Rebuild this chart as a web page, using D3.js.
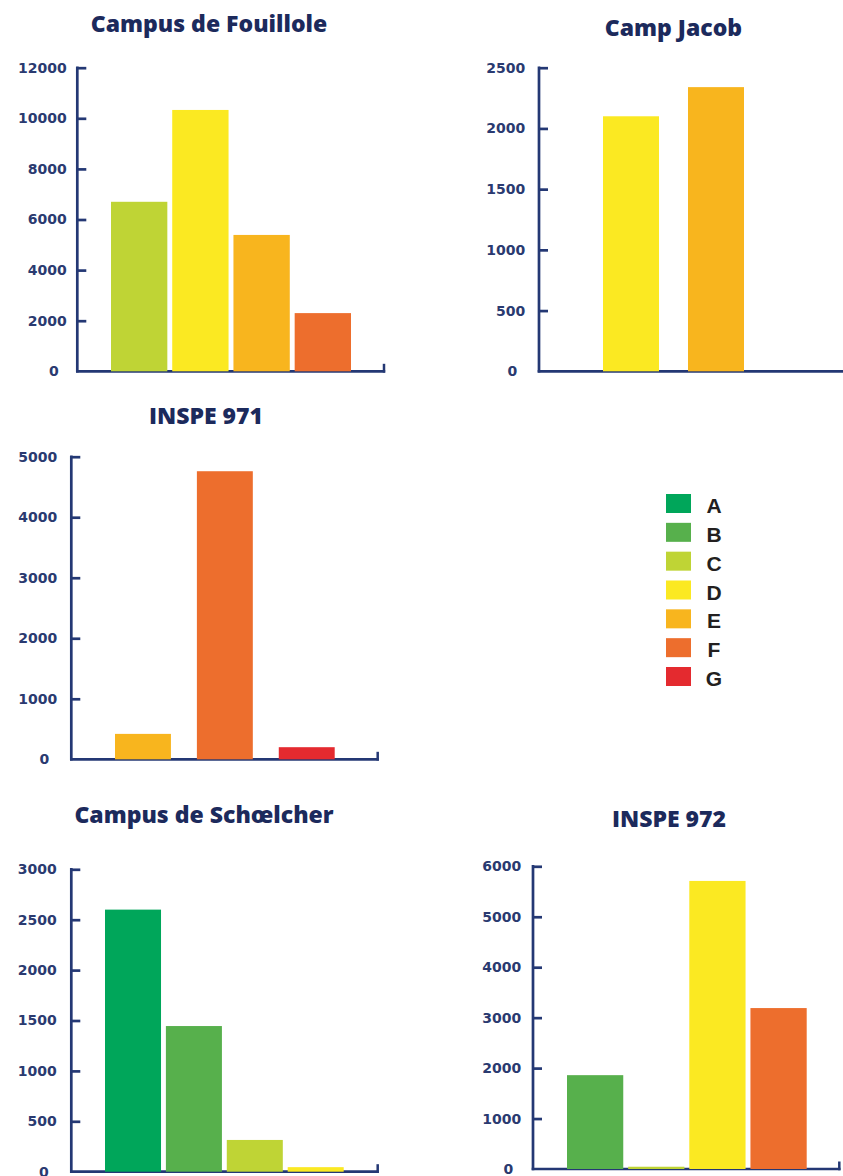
<!DOCTYPE html>
<html>
<head>
<meta charset="utf-8">
<script src="https://cdn.jsdelivr.net/npm/d3@7"></script>
<style>
  html, body { margin: 0; padding: 0; background: #ffffff; }
  svg { display: block; }
</style>
</head>
<body>
<svg id="chart" width="843" height="1176"></svg>
<script>
// ---------- DATA ----------
const legendCategories = ["A", "B", "C", "D", "E", "F", "G"];
const legendColors = ["#00a65a", "#57b04c", "#bfd435", "#fbe922", "#f8b51e", "#ed6e2d", "#e42a2f"];

const fouilloleCategories = ["C", "D", "E", "F"];
const fouilloleValues = [6700, 10330, 5390, 2300];
const fouilloleTicks = [0, 2000, 4000, 6000, 8000, 10000, 12000];

const campJacobCategories = ["D", "E"];
const campJacobValues = [2100, 2340];
const campJacobTicks = [0, 500, 1000, 1500, 2000, 2500];

const inspe971Categories = ["E", "F", "G"];
const inspe971Values = [420, 4760, 200];
const inspe971Ticks = [0, 1000, 2000, 3000, 4000, 5000];

const schoelcherCategories = ["A", "B", "C", "D"];
const schoelcherValues = [2600, 1445, 315, 45];
const schoelcherTicks = [0, 500, 1000, 1500, 2000, 2500, 3000];

const inspe972Categories = ["B", "C", "D", "F"];
const inspe972Values = [1860, 45, 5710, 3190];
const inspe972Ticks = [0, 1000, 2000, 3000, 4000, 5000, 6000];

const titles = ["Campus de Fouillole", "Camp Jacob", "INSPE 971", "Campus de Schœlcher", "INSPE 972"];

// ---------- STYLE / LAYOUT ----------
const axisColor = "#243874";
const tickTextColor = "#2a3a70";
const titleColor = "#1c2a5c";
const barColor = d3.scaleOrdinal().domain(legendCategories).range(legendColors);

const svg = d3.select("#chart");

const panels = [
  { title: titles[0], cats: fouilloleCategories, vals: fouilloleValues, ticks: fouilloleTicks,
    ax: 77.3, top: 67.7, base: 371.3, right: 384, band: [111, 351], pad: 0.08, labelGap: 10.6,
    tx: 209, ty: 31.5 },
  { title: titles[1], cats: campJacobCategories, vals: campJacobValues, ticks: campJacobTicks,
    ax: 539, top: 67.7, base: 371.3, right: 846, band: [603, 744], pad: 0.341, labelGap: 13.7,
    tx: 673.5, ty: 35.5 },
  { title: titles[2], cats: inspe971Categories, vals: inspe971Values, ticks: inspe971Ticks,
    ax: 71.3, top: 456.7, base: 759.3, right: 377.7, band: [115, 334.7], pad: 0.317, labelGap: 14,
    tx: 206, ty: 424 },
  { title: titles[3], cats: schoelcherCategories, vals: schoelcherValues, ticks: schoelcherTicks,
    ax: 71.3, top: 869.3, base: 1171.7, right: 377.7, band: [105, 343.7], pad: 0.08, labelGap: 14.6,
    tx: 204, ty: 822.5 },
  { title: titles[4], cats: inspe972Categories, vals: inspe972Values, ticks: inspe972Ticks,
    ax: 533, top: 866.3, base: 1169, right: 839.3, band: [567, 806.7], pad: 0.08, labelGap: 11.7,
    tx: 669, ty: 827 }
];

panels.forEach(p => {
  const g = svg.append("g");
  const maxTick = d3.max(p.ticks);
  const y = d3.scaleLinear().domain([0, maxTick]).range([p.base, p.top]);
  const x = d3.scaleBand().domain(p.cats).range(p.band).paddingInner(p.pad).paddingOuter(0);

  // title
  g.append("text")
    .attr("x", p.tx).attr("y", p.ty)
    .attr("text-anchor", "middle")
    .attr("font-family", "'Open Sans', sans-serif")
    .attr("font-weight", 800)
    .attr("font-size", 23)
    .attr("fill", titleColor)
    .text(p.title);

  // y axis line
  g.append("line")
    .attr("x1", p.ax).attr("x2", p.ax)
    .attr("y1", y(maxTick) - 1.3).attr("y2", p.base + 1.3)
    .attr("stroke", axisColor).attr("stroke-width", 2.7);

  // x axis line
  g.append("line")
    .attr("x1", p.ax - 1.3).attr("x2", p.right + 1.2)
    .attr("y1", p.base).attr("y2", p.base)
    .attr("stroke", axisColor).attr("stroke-width", 2.7);

  // end tick on x axis
  g.append("line")
    .attr("x1", p.right).attr("x2", p.right)
    .attr("y1", p.base - 7.5).attr("y2", p.base + 1.3)
    .attr("stroke", axisColor).attr("stroke-width", 2.5);

  // y ticks (inward) + labels via d3 axis
  const yAxis = d3.axisLeft(y).tickValues(p.ticks).tickSize(0).tickPadding(p.labelGap).tickFormat(d3.format("d"));
  const ag = g.append("g").attr("transform", `translate(${p.ax},0)`).call(yAxis);
  ag.select(".domain").remove();
  ag.selectAll("text")
    .attr("font-family", "'DejaVu Sans', sans-serif")
    .attr("font-weight", "bold")
    .attr("font-size", 14)
    .attr("fill", tickTextColor)
    .attr("dx", d => d === 0 ? -8 : 0);
  ag.selectAll(".tick")
    .filter(d => d !== 0)
    .append("line")
    .attr("x1", 0).attr("x2", 9)
    .attr("y1", 0).attr("y2", 0)
    .attr("stroke", axisColor).attr("stroke-width", 2.7);

  // bars
  g.selectAll("rect.bar")
    .data(p.cats.map((c, i) => ({ c, v: p.vals[i] })))
    .join("rect")
    .attr("class", "bar")
    .attr("x", d => x(d.c))
    .attr("width", x.bandwidth())
    .attr("y", d => y(d.v))
    .attr("height", d => p.base - y(d.v))
    .attr("fill", d => barColor(d.c));
});

// ---------- LEGEND ----------
const legY = d3.scalePoint().domain(legendCategories).range([494, 667]);
const leg = svg.append("g");
leg.selectAll("rect")
  .data(legendCategories)
  .join("rect")
  .attr("x", 666).attr("y", d => legY(d))
  .attr("width", 25).attr("height", 19)
  .attr("fill", d => barColor(d));
leg.selectAll("text")
  .data(legendCategories)
  .join("text")
  .attr("x", 714).attr("y", d => legY(d) + 19)
  .attr("text-anchor", "middle")
  .attr("font-family", "'Liberation Sans', Arial, sans-serif")
  .attr("font-weight", "bold")
  .attr("font-size", 21)
  .attr("fill", "#231f20")
  .text(d => d);
</script>
</body>
</html>
